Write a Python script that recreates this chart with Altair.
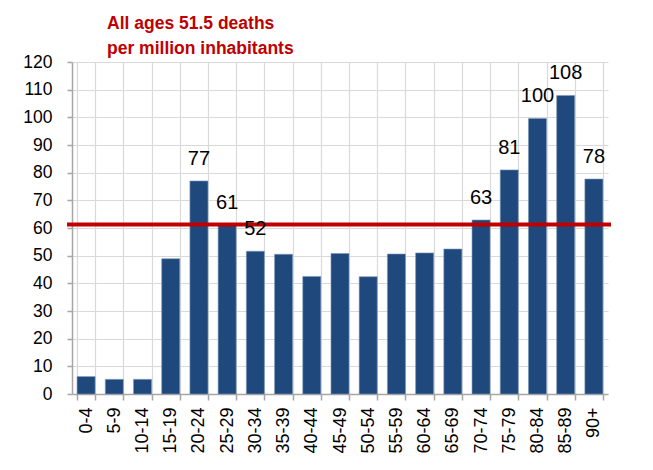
import altair as alt
import pandas as pd

ages = ["0-4", "5-9", "10-14", "15-19", "20-24", "25-29", "30-34", "35-39", "40-44",
        "45-49", "50-54", "55-59", "60-64", "65-69", "70-74", "75-79", "80-84", "85-89", "90+"]
deaths = [6.3, 5.3, 5.3, 48.9, 77.0, 61.0, 51.6, 50.5, 42.5,
          50.8, 42.4, 50.6, 51.0, 52.4, 62.9, 81.0, 99.6, 107.9, 77.7]
labels = ["", "", "", "", "77", "61", "52", "", "",
          "", "", "", "", "", "63", "81", "100", "108", "78"]
reference_level = 61.3
title_lines = ["All ages 51.5 deaths", "per million inhabitants"]
y_ticks = [0, 10, 20, 30, 40, 50, 60, 70, 80, 90, 100, 110, 120]

df = pd.DataFrame({"age": ages, "deaths": deaths, "label": labels})

W, H = 536, 332
FONT = "Liberation Sans"

x_scale = alt.Scale(paddingInner=0.36, paddingOuter=0.18)
x_axis = alt.Axis(labelAngle=-90, labelFont=FONT, labelFontSize=18,
                  labelColor="#000000", tickBand="extent", tickSize=6,
                  tickColor="#A6A6A6", domainColor="#A6A6A6", domainWidth=1.5,
                  tickWidth=1.5, labelPadding=7, labelOverlap=False,
                  grid=True, gridColor="#D9D9D9", gridWidth=1.2)
y_scale = alt.Scale(domain=[0, 120], nice=False)
y_axis = alt.Axis(values=y_ticks, labelFont=FONT,
                  labelFontSize=17.5, labelColor="#000000", tickSize=5,
                  tickColor="#A6A6A6", domainColor="#A6A6A6", domainWidth=1.5,
                  tickWidth=1.5, labelPadding=15, labelOverlap=False,
                  grid=True, gridColor="#D9D9D9", gridWidth=1.2)

bars = alt.Chart(df).mark_bar(color="#1F497D", stroke="#7F98B8", strokeWidth=0.6).encode(
    x=alt.X("age:N", sort=ages, title=None, scale=x_scale, axis=x_axis),
    y=alt.Y("deaths:Q", title=None, scale=y_scale, axis=y_axis))

text = alt.Chart(df).transform_filter(alt.datum.label != "").mark_text(
    font=FONT, fontSize=20, baseline="alphabetic", dy=-16, color="#000000"
).encode(x=alt.X("age:N", sort=ages, title=None, scale=x_scale, axis=x_axis),
         y=alt.Y("deaths:Q", title=None, scale=y_scale, axis=y_axis),
         text="label:N")

rule_df = pd.DataFrame({"level": [reference_level]})
rule = alt.Chart(rule_df).mark_rule(color="#C00000", strokeWidth=4).encode(
    y=alt.Y("level:Q", title=None, scale=y_scale, axis=y_axis),
    x=alt.value(-5), x2=alt.value(W + 3))

chart = alt.layer(bars, rule, text).properties(
    width=W, height=H,
    title=alt.Title(title_lines, anchor="start", frame="group", dx=35, dy=10, font=FONT,
                    fontSize=17.5, fontWeight="bold", color="#C00000", lineHeight=25,
                    offset=6),
    autosize=alt.AutoSizeParams(type="none"),
    padding={"left": 64, "top": 54, "right": 30, "bottom": 60},
).configure_view(stroke=None)

chart.save("out.html", embed_options={"renderer": "svg", "actions": False})
